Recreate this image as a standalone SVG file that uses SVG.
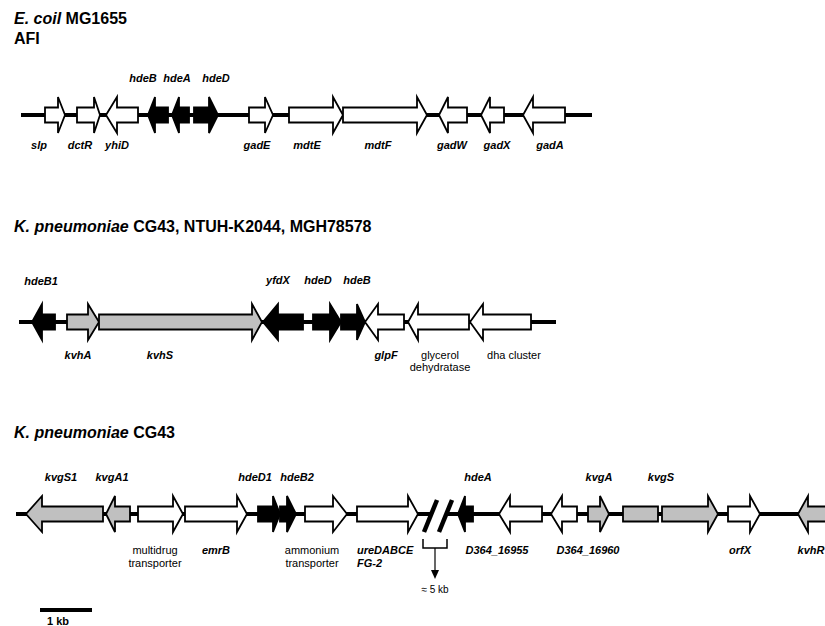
<svg xmlns="http://www.w3.org/2000/svg" width="825" height="626" viewBox="0 0 825 626">
  <style>
    .bg { fill: #ffffff; }
    .title { font-family: "Liberation Sans", Arial, sans-serif; font-size: 16px; font-weight: bold; fill: #000; }
    .gene { font-family: "Liberation Sans", Arial, sans-serif; font-size: 11px; font-weight: bold; font-style: italic; fill: #000; text-anchor: middle; }
    .gene-l { font-family: "Liberation Sans", Arial, sans-serif; font-size: 11px; font-weight: bold; font-style: italic; fill: #000; text-anchor: start; }
    .desc { font-family: "Liberation Sans", Arial, sans-serif; font-size: 11px; fill: #000; text-anchor: middle; }
    .small { font-family: "Liberation Sans", Arial, sans-serif; font-size: 10px; fill: #000; text-anchor: middle; }
    .scale-label { font-family: "Liberation Sans", Arial, sans-serif; font-size: 11px; font-weight: bold; fill: #000; text-anchor: start; }
    .chrom { stroke: #000; stroke-width: 4; fill: none; }
    .orf { stroke: #000; stroke-width: 1.8; stroke-linejoin: miter; }
    .w { fill: #ffffff; }
    .k { fill: #000000; }
    .g { fill: #c0c0c0; }
  </style>
  <rect class="bg" x="0" y="0" width="825" height="626"/>

  <!-- Titles -->
  <text class="title" x="14" y="24"><tspan font-style="italic">E. coil</tspan> MG1655</text>
  <text class="title" x="14" y="44">AFI</text>
  <text class="title" x="14" y="232"><tspan font-style="italic">K. pneumoniae</tspan> CG43, NTUH-K2044, MGH78578</text>
  <text class="title" x="14" y="438"><tspan font-style="italic">K. pneumoniae</tspan> CG43</text>

  <!-- Chromosome backbones, break mark, gap bracket and scale bar -->
  <g id="connectors">
    <line class="chrom" x1="21" y1="115" x2="592" y2="115"/>
    <line class="chrom" x1="19" y1="322" x2="556" y2="322"/>
    <line class="chrom" x1="16" y1="514" x2="430" y2="514"/>
    <line class="chrom" x1="446" y1="514" x2="825" y2="514"/>
    <line x1="424" y1="532" x2="437" y2="500" stroke="#000" stroke-width="4.5"/>
    <line x1="439" y1="532" x2="452" y2="500" stroke="#000" stroke-width="4.5"/>
    <path d="M423,539 V548 H447 V539" fill="none" stroke="#000" stroke-width="1.5"/>
    <line x1="435" y1="548" x2="435" y2="571" stroke="#000" stroke-width="1.2"/>
    <polygon points="431,570 439,570 435,579" fill="#000"/>
    <line x1="40" y1="610" x2="92" y2="610" stroke="#000" stroke-width="4"/>
  </g>

  <!-- Row 1: E. coli AFI -->
  <g id="slp"><path class="orf w" d="M45,107.5 H58 V97 L65,115 L58,133 V122.5 H45 Z"/><text class="gene" x="39" y="149">slp</text></g>
  <g id="dctR"><path class="orf w" d="M77,107.5 H94 V97 L100,115 L94,133 V122.5 H77 Z"/><text class="gene" x="80" y="149">dctR</text></g>
  <g id="yhiD"><path class="orf w" d="M138,107.5 H117 V97 L106,115 L117,133 V122.5 H138 Z"/><text class="gene" x="117" y="149">yhiD</text></g>
  <g id="hdeB"><path class="orf k" d="M168,107.5 H155 V97 L148,115 L155,133 V122.5 H168 Z"/><text class="gene" x="143" y="82">hdeB</text></g>
  <g id="hdeA"><path class="orf k" d="M189,107.5 H179 V97 L172,115 L179,133 V122.5 H189 Z"/><text class="gene" x="177" y="82">hdeA</text></g>
  <g id="hdeD"><path class="orf k" d="M194,107.5 H209 V97 L218,115 L209,133 V122.5 H194 Z"/><text class="gene" x="216" y="82">hdeD</text></g>
  <g id="gadE"><path class="orf w" d="M249,107.5 H265 V97 L273,115 L265,133 V122.5 H249 Z"/><text class="gene" x="257" y="149">gadE</text></g>
  <g id="mdtE"><path class="orf w" d="M289,107.5 H333 V97 L343,115 L333,133 V122.5 H289 Z"/><text class="gene" x="307" y="149">mdtE</text></g>
  <g id="mdtF"><path class="orf w" d="M343,107.5 H417 V97 L427,115 L417,133 V122.5 H343 Z"/><text class="gene" x="378" y="149">mdtF</text></g>
  <g id="gadW"><path class="orf w" d="M467,107.5 H448 V97 L439,115 L448,133 V122.5 H467 Z"/><text class="gene" x="452" y="149">gadW</text></g>
  <g id="gadX"><path class="orf w" d="M504,107.5 H490 V97 L481,115 L490,133 V122.5 H504 Z"/><text class="gene" x="497" y="149">gadX</text></g>
  <g id="gadA"><path class="orf w" d="M565,107.5 H533 V97 L523,115 L533,133 V122.5 H565 Z"/><text class="gene" x="550" y="149">gadA</text></g>

  <!-- Row 2: K. pneumoniae CG43, NTUH-K2044, MGH78578 -->
  <g id="hdeB1"><path class="orf k" d="M55,314.5 H42 V304 L32,322 L42,340 V329.5 H55 Z"/><text class="gene" x="41" y="285">hdeB1</text></g>
  <g id="kvhA"><path class="orf g" d="M67,314.5 H88 V304 L99,322 L88,340 V329.5 H67 Z"/><text class="gene" x="78" y="359">kvhA</text></g>
  <g id="kvhS"><path class="orf g" d="M99,314.5 H252 V304 L262,322 L252,340 V329.5 H99 Z"/><text class="gene" x="160" y="359">kvhS</text></g>
  <g id="yfdX"><path class="orf k" d="M303,314.5 H278 V304 L263,322 L278,340 V329.5 H303 Z"/><text class="gene" x="278" y="284">yfdX</text></g>
  <g id="hdeD-2"><path class="orf k" d="M313,314.5 H330 V304 L341,322 L330,340 V329.5 H313 Z"/><text class="gene" x="318" y="284">hdeD</text></g>
  <g id="hdeB-2"><path class="orf k" d="M341,314.5 H357 V304 L365,322 L357,340 V329.5 H341 Z"/><text class="gene" x="357" y="284">hdeB</text></g>
  <g id="glpF"><path class="orf w" d="M404,314.5 H378 V304 L365,322 L378,340 V329.5 H404 Z"/><text class="gene" x="386" y="359">glpF</text></g>
  <g id="glycerol-dehydratase"><path class="orf w" d="M469,314.5 H418 V304 L408,322 L418,340 V329.5 H469 Z"/><text class="desc" x="440" y="359">glycerol</text><text class="desc" x="440" y="371">dehydratase</text></g>
  <g id="dha-cluster"><path class="orf w" d="M531,314.5 H483 V304 L470,322 L483,340 V329.5 H531 Z"/><text class="desc" x="514" y="359">dha cluster</text></g>

  <!-- Row 3: K. pneumoniae CG43 -->
  <g id="kvgS1"><path class="orf g" d="M103,506.5 H42 V496 L26,514 L42,532 V521.5 H103 Z"/><text class="gene" x="61" y="481">kvgS1</text></g>
  <g id="kvgA1"><path class="orf g" d="M130,506.5 H115 V496 L106,514 L115,532 V521.5 H130 Z"/><text class="gene" x="112" y="481">kvgA1</text></g>
  <g id="multidrug-transporter"><path class="orf w" d="M138,506.5 H173 V496 L183,514 L173,532 V521.5 H138 Z"/><text class="desc" x="155" y="554">multidrug</text><text class="desc" x="155" y="567">transporter</text></g>
  <g id="emrB"><path class="orf w" d="M185,506.5 H237 V496 L247,514 L237,532 V521.5 H185 Z"/><text class="gene" x="216" y="554">emrB</text></g>
  <g id="hdeD1"><path class="orf k" d="M258,506.5 H273 V496 L280,514 L273,532 V521.5 H258 Z"/><text class="gene" x="255" y="481">hdeD1</text></g>
  <g id="hdeB2"><path class="orf k" d="M280,506.5 H287 V496 L296,514 L287,532 V521.5 H280 Z"/><text class="gene" x="297" y="481">hdeB2</text></g>
  <g id="ammonium-transporter"><path class="orf w" d="M305,506.5 H333 V496 L347,514 L333,532 V521.5 H305 Z"/><text class="desc" x="312" y="554">ammonium</text><text class="desc" x="312" y="567">transporter</text></g>
  <g id="ureDABCEFG-2"><path class="orf w" d="M357,506.5 H408 V496 L418,514 L408,532 V521.5 H357 Z"/><text class="gene-l" x="357" y="554">ureDABCE</text><text class="gene-l" x="357" y="567">FG-2</text></g>
  <g id="gap-5kb"><text class="small" x="435" y="593">≈ 5 kb</text></g>
  <g id="hdeA-2"><path class="orf k" d="M473,506.5 H465 V496 L458,514 L465,532 V521.5 H473 Z"/><text class="gene" x="478" y="481">hdeA</text></g>
  <g id="D364_16955"><path class="orf w" d="M542,506.5 H510 V496 L499,514 L510,532 V521.5 H542 Z"/><text class="gene" x="497" y="554">D364_16955</text></g>
  <g id="D364_16960"><path class="orf w" d="M577,506.5 H562 V496 L551,514 L562,532 V521.5 H577 Z"/><text class="gene" x="588" y="554">D364_16960</text></g>
  <g id="kvgA"><path class="orf g" d="M588,506.5 H600 V496 L609,514 L600,532 V521.5 H588 Z"/><text class="gene" x="599" y="481">kvgA</text></g>
  <g id="kvgS"><path class="orf g" d="M623,506.5 H658 V521.5 H623 Z"/><path class="orf g" d="M662,506.5 H708 V496 L718,514 L708,532 V521.5 H662 Z"/><text class="gene" x="661" y="481">kvgS</text></g>
  <g id="orfX"><path class="orf w" d="M728,506.5 H750 V496 L760,514 L750,532 V521.5 H728 Z"/><text class="gene" x="740" y="554">orfX</text></g>
  <g id="kvhR"><path class="orf g" d="M830,506.5 H808 V496 L798,514 L808,532 V521.5 H830 Z"/><text class="gene" x="811" y="554">kvhR</text></g>

  <!-- Scale -->
  <g id="scale"><text class="scale-label" x="47" y="625">1 kb</text></g>
</svg>
